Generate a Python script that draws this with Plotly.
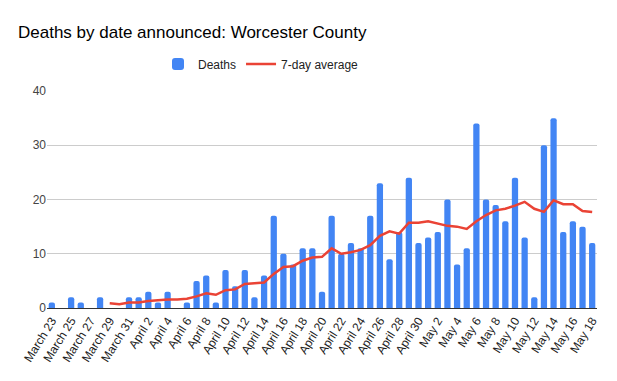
import plotly.graph_objects as go

dates = (["March %d" % d for d in range(23, 32)] +
         ["April %d" % d for d in range(1, 31)] +
         ["May %d" % d for d in range(1, 19)])

deaths = [1, 0, 2, 1, 0, 2, 0, 0, 2,
          2, 3, 1, 3, 0, 1, 5, 6, 1, 7, 4, 7, 2, 6, 17, 10, 8, 11, 11, 3, 17,
          10, 12, 11, 17, 23, 9, 14, 24, 12,
          13, 14, 20, 8, 11, 34, 20, 19, 16, 24, 13, 2, 30, 35, 14, 16, 15, 12]

avg7 = [None, None, None, None, None, None, 0.86, 0.71, 1.0,
        1.0, 1.29, 1.43, 1.57, 1.57, 1.71, 2.14, 2.71, 2.43, 3.29, 3.43, 4.43,
        4.57, 4.71, 6.29, 7.57, 7.71, 8.71, 9.29, 9.43, 11.0, 10.0, 10.29,
        10.71, 11.57, 13.29, 14.14, 13.71, 15.71, 15.71,
        16.0, 15.57, 15.14, 15.0, 14.57, 16.0, 17.14, 18.0, 18.29, 18.86,
        19.57, 18.29, 17.71, 19.86, 19.14, 19.14, 17.86, 17.71]

tick_labels = dates[::2]

W, H = 617, 381

fig = go.Figure()
fig.add_trace(go.Bar(x=dates, y=deaths, name="Deaths",
                     marker=dict(color="#4285F4", cornerradius=2, line_width=0)))
fig.add_trace(go.Scatter(x=dates, y=avg7, name="7-day average", mode="lines",
                         line=dict(color="#EA4335", width=2.5)))

fig.update_layout(
    width=W, height=H,
    margin=dict(l=39, r=28, t=83, b=81, autoexpand=False),
    paper_bgcolor="white", plot_bgcolor="white",
    font=dict(family="Liberation Sans, Arial, sans-serif", size=12, color="#222222"),
    title=dict(text="Deaths by date announced: Worcester County",
               xref="container", yref="container", x=10/W, xanchor="left",
               y=1-24/H, yanchor="middle", pad=dict(l=0, r=0, t=0, b=0),
               font=dict(size=17, color="#000000")),
    legend=dict(orientation="h", xref="container", yref="container",
                x=150/W, xanchor="left", y=1-56/H, yanchor="middle",
                font=dict(size=12, color="#222222"), itemwidth=30),
    bargap=0.35,
    showlegend=True,
)
fig.update_xaxes(type="category", tickmode="array", tickvals=tick_labels,
                 ticktext=tick_labels, tickangle=-58, showgrid=False,
                 showline=True, linecolor="#333333", linewidth=1, automargin=False,
                 ticks="", tickfont=dict(size=12, color="#222222"))
fig.update_yaxes(range=[0, 40], dtick=10, showgrid=True, gridcolor="#CCCCCC",
                 zeroline=False, ticks="", automargin=False,
                 tickfont=dict(size=12, color="#444444"))

fig.write_html("out.html")
